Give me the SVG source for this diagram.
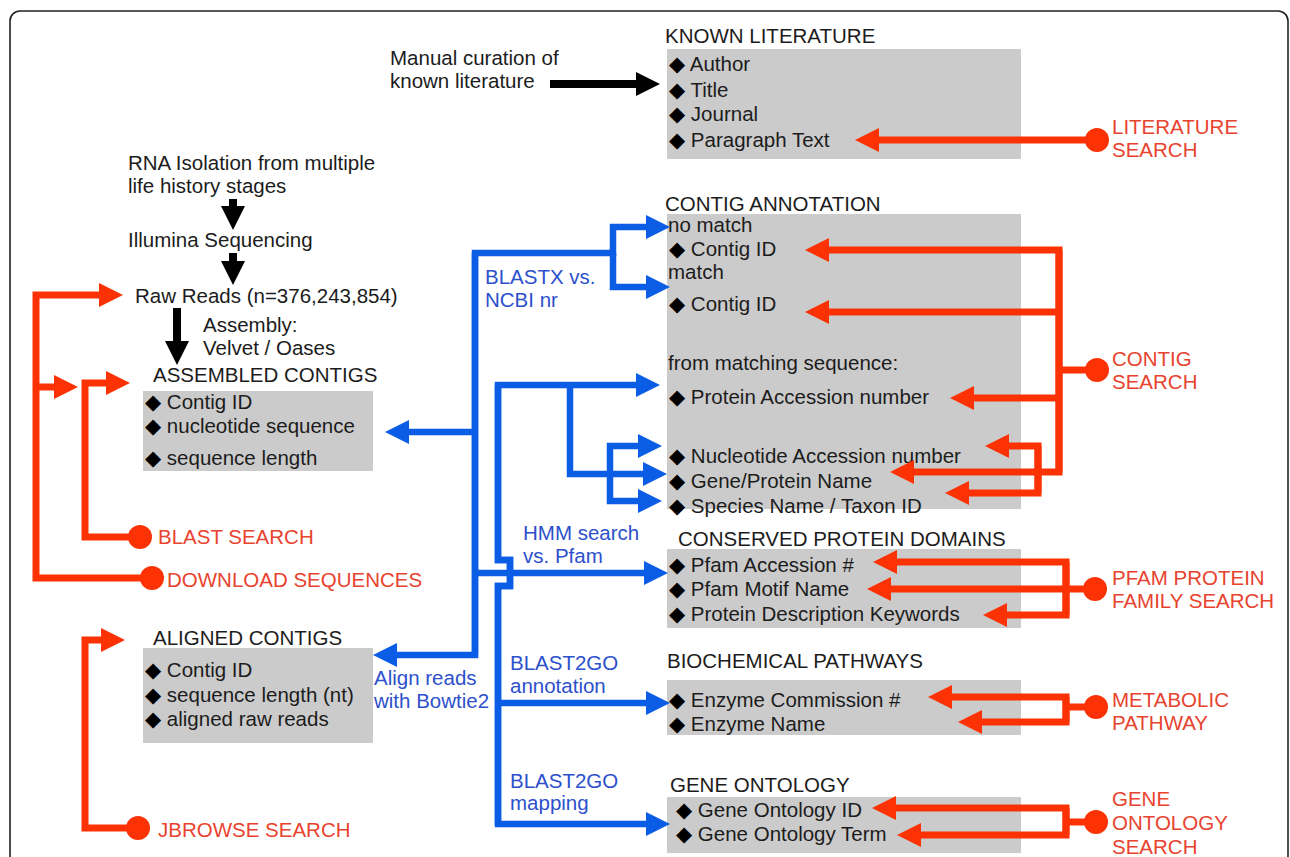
<svg xmlns="http://www.w3.org/2000/svg" width="1290" height="857" viewBox="0 0 1290 857">
<style>
text{font-family:"Liberation Sans",Arial,"DejaVu Sans",sans-serif;font-size:20.5px;fill:#1c1c1c}
.d{font-family:"DejaVu Sans",sans-serif;font-size:21px;fill:#000}
.box{fill:#cbcbcb}
.red{fill:#e8432e}
.blue{fill:#2d50cc}
.rl{fill:none;stroke:#fc3205;stroke-width:7;stroke-linejoin:miter}
.bl{fill:none;stroke:#0b5de6;stroke-width:6.5;stroke-linejoin:miter}
.kl{fill:none;stroke:#000;stroke-width:8}
.dot{fill:#fc3205}
</style>
<defs>
<marker id="ar" markerUnits="userSpaceOnUse" markerWidth="24" markerHeight="24" viewBox="0 0 24 24" refX="12" refY="12" orient="auto"><path d="M0,0 L24,12 L0,24 z" fill="#fc3205"/></marker>
<marker id="ab" markerUnits="userSpaceOnUse" markerWidth="24" markerHeight="24" viewBox="0 0 24 24" refX="12" refY="12" orient="auto"><path d="M0,0 L24,12 L0,24 z" fill="#0b5de6"/></marker>
<marker id="ak" markerUnits="userSpaceOnUse" markerWidth="24" markerHeight="24" viewBox="0 0 24 24" refX="12" refY="12" orient="auto"><path d="M0,0 L24,12 L0,24 z" fill="#000"/></marker>
</defs>
<rect x="10" y="11" width="1278" height="900" rx="10" fill="#fff" stroke="#222" stroke-width="1.6"/>

<g id="manual-curation">
  <text x="390" y="65">Manual curation of</text>
  <text x="390" y="88">known literature</text>
</g>
<g id="rna-isolation">
  <text x="128" y="170">RNA Isolation from multiple</text>
  <text x="128" y="193">life history stages</text>
</g>
<g id="illumina">
  <text x="128" y="247">Illumina Sequencing</text>
</g>
<g id="raw-reads">
  <text x="135" y="303">Raw Reads (n=376,243,854)</text>
</g>

<g id="assembled-contigs">
  <text x="153" y="382">ASSEMBLED CONTIGS</text>
  <rect class="box" x="143" y="391" width="230" height="80"/>
  <text x="145" y="409"><tspan class="d">◆</tspan> Contig ID</text>
  <text x="145" y="433"><tspan class="d">◆</tspan> nucleotide sequence</text>
  <text x="145" y="465"><tspan class="d">◆</tspan> sequence length</text>
</g>

<g id="aligned-contigs">
  <text x="153" y="645">ALIGNED CONTIGS</text>
  <rect class="box" x="143" y="648" width="230" height="95"/>
  <text x="145" y="677"><tspan class="d">◆</tspan> Contig ID</text>
  <text x="145" y="702"><tspan class="d">◆</tspan> sequence length (nt)</text>
  <text x="145" y="726"><tspan class="d">◆</tspan> aligned raw reads</text>
</g>

<g id="known-literature">
  <text x="665" y="43">KNOWN LITERATURE</text>
  <rect class="box" x="667" y="49" width="354" height="110"/>
  <text x="669" y="71"><tspan class="d">◆</tspan> Author</text>
  <text x="669" y="97"><tspan class="d">◆</tspan> Title</text>
  <text x="669" y="121"><tspan class="d">◆</tspan> Journal</text>
  <text x="669" y="147"><tspan class="d">◆</tspan> Paragraph Text</text>
</g>

<g id="contig-annotation">
  <text x="665" y="211">CONTIG ANNOTATION</text>
  <rect class="box" x="667" y="214" width="354" height="295"/>
  <text x="668" y="232">no match</text>
  <text x="669" y="256"><tspan class="d">◆</tspan> Contig ID</text>
  <text x="668" y="279">match</text>
  <text x="669" y="311"><tspan class="d">◆</tspan> Contig ID</text>
  <text x="668" y="370">from matching sequence:</text>
  <text x="669" y="404"><tspan class="d">◆</tspan> Protein Accession number</text>
  <text x="669" y="463"><tspan class="d">◆</tspan> Nucleotide Accession number</text>
  <text x="669" y="488"><tspan class="d">◆</tspan> Gene/Protein Name</text>
  <text x="669" y="513"><tspan class="d">◆</tspan> Species Name / Taxon ID</text>
</g>

<g id="conserved-protein-domains">
  <text x="678" y="546">CONSERVED PROTEIN DOMAINS</text>
  <rect class="box" x="667" y="549" width="354" height="79"/>
  <text x="669" y="572"><tspan class="d">◆</tspan> Pfam Accession #</text>
  <text x="669" y="596"><tspan class="d">◆</tspan> Pfam Motif Name</text>
  <text x="669" y="621"><tspan class="d">◆</tspan> Protein Description Keywords</text>
</g>

<g id="biochemical-pathways">
  <text x="667" y="668">BIOCHEMICAL PATHWAYS</text>
  <rect class="box" x="667" y="680" width="354" height="55"/>
  <text x="669" y="707"><tspan class="d">◆</tspan> Enzyme Commission #</text>
  <text x="669" y="731"><tspan class="d">◆</tspan> Enzyme Name</text>
</g>

<g id="gene-ontology">
  <text x="670" y="792">GENE ONTOLOGY</text>
  <rect class="box" x="667" y="797" width="354" height="56"/>
  <text x="676" y="817"><tspan class="d">◆</tspan> Gene Ontology ID</text>
  <text x="676" y="841"><tspan class="d">◆</tspan> Gene Ontology Term</text>
</g>

<g id="literature-search">
  <circle class="dot" cx="1097" cy="140" r="12"/>
  <text class="red" x="1112" y="134">LITERATURE</text>
  <text class="red" x="1112" y="157">SEARCH</text>
</g>
<g id="contig-search">
  <circle class="dot" cx="1097" cy="370" r="12"/>
  <text class="red" x="1112" y="366">CONTIG</text>
  <text class="red" x="1112" y="389">SEARCH</text>
</g>
<g id="pfam-search">
  <circle class="dot" cx="1095" cy="589" r="12"/>
  <text class="red" x="1112" y="585">PFAM PROTEIN</text>
  <text class="red" x="1112" y="608">FAMILY SEARCH</text>
</g>
<g id="metabolic-pathway">
  <circle class="dot" cx="1096" cy="707" r="12"/>
  <text class="red" x="1112" y="707">METABOLIC</text>
  <text class="red" x="1112" y="730">PATHWAY</text>
</g>
<g id="gene-ontology-search">
  <circle class="dot" cx="1096" cy="822" r="12"/>
  <text class="red" x="1112" y="806">GENE</text>
  <text class="red" x="1112" y="830">ONTOLOGY</text>
  <text class="red" x="1112" y="854">SEARCH</text>
</g>
<g id="blast-search">
  <circle class="dot" cx="140" cy="537" r="12"/>
  <text class="red" x="158" y="544">BLAST SEARCH</text>
</g>
<g id="download-sequences">
  <circle class="dot" cx="152" cy="578" r="12"/>
  <text class="red" x="167" y="587">DOWNLOAD SEQUENCES</text>
</g>
<g id="jbrowse-search">
  <circle class="dot" cx="138" cy="828" r="12"/>
  <text class="red" x="158" y="837">JBROWSE SEARCH</text>
</g>

<g id="connectors">
  <!-- black -->
  <path class="kl" d="M550,84 H648" marker-end="url(#ak)"/>
  <path class="kl" d="M233,199 V218" marker-end="url(#ak)"/>
  <path class="kl" d="M233,253 V273" marker-end="url(#ak)"/>
  <path class="kl" d="M177,308 V353" marker-end="url(#ak)"/>
  <!-- blue -->
  <path class="bl" d="M475,253 V655 H385" marker-end="url(#ab)"/>
  <path class="bl" d="M475,655 V253 H613 V227 H658" marker-end="url(#ab)"/>
  <path class="bl" d="M613,253 V287 H658" marker-end="url(#ab)"/>
  <path class="bl" d="M475,432 H397" marker-end="url(#ab)"/>
  <path class="bl" d="M475,573 H656" marker-end="url(#ab)"/>
  <path class="bl" d="M498,825 V586 H510 V560 H498 V385 H648" marker-end="url(#ab)"/>
  <path class="bl" d="M498,385 V560 H510 V586 H498 V824 H658" marker-end="url(#ab)"/>
  <path class="bl" d="M498,703 H658" marker-end="url(#ab)"/>
  <path class="bl" d="M570,385 V474 H655" marker-end="url(#ab)"/>
  <path class="bl" d="M610,474 V446 H650" marker-end="url(#ab)"/>
  <path class="bl" d="M610,474 V501 H650" marker-end="url(#ab)"/>
  <!-- red -->
  <path class="rl" d="M1097,140 H867" marker-end="url(#ar)"/>
  <path class="rl" d="M1059,472 V250 H817" marker-end="url(#ar)"/>
  <path class="rl" d="M1059,250 V472 H902" marker-end="url(#ar)"/>
  <path class="rl" d="M1059,312 H817" marker-end="url(#ar)"/>
  <path class="rl" d="M1059,398 H962" marker-end="url(#ar)"/>
  <path class="rl" d="M1097,370 H1059"/>
  <path class="rl" d="M1038,493 V446 H997" marker-end="url(#ar)"/>
  <path class="rl" d="M1038,446 V493 H957" marker-end="url(#ar)"/>
  <path class="rl" d="M1066,615 V562 H885" marker-end="url(#ar)"/>
  <path class="rl" d="M1066,562 V615 H995" marker-end="url(#ar)"/>
  <path class="rl" d="M1095,589 H879" marker-end="url(#ar)"/>
  <path class="rl" d="M1066,722 V697 H940" marker-end="url(#ar)"/>
  <path class="rl" d="M1066,697 V722 H970" marker-end="url(#ar)"/>
  <path class="rl" d="M1096,707 H1066"/>
  <path class="rl" d="M1066,835 V808 H884" marker-end="url(#ar)"/>
  <path class="rl" d="M1066,808 V835 H909" marker-end="url(#ar)"/>
  <path class="rl" d="M1096,822 H1066"/>
  <path class="rl" d="M152,578 H36 V295 H111" marker-end="url(#ar)"/>
  <path class="rl" d="M36,387 H66" marker-end="url(#ar)"/>
  <path class="rl" d="M140,537 H85 V383 H118" marker-end="url(#ar)"/>
  <path class="rl" d="M138,828 H85 V640 H113" marker-end="url(#ar)"/>
  <!-- edge labels -->
  <text class="blue" x="485" y="284">BLASTX vs.</text>
  <text class="blue" x="485" y="307">NCBI nr</text>
  <text class="blue" x="523" y="540">HMM search</text>
  <text class="blue" x="523" y="563">vs. Pfam</text>
  <text class="blue" x="374" y="685">Align reads</text>
  <text class="blue" x="374" y="708">with Bowtie2</text>
  <text class="blue" x="510" y="670">BLAST2GO</text>
  <text class="blue" x="510" y="693">annotation</text>
  <text class="blue" x="510" y="788">BLAST2GO</text>
  <text class="blue" x="510" y="810">mapping</text>
  <text x="203" y="332">Assembly:</text>
  <text x="203" y="355">Velvet / Oases</text>
</g>
</svg>
